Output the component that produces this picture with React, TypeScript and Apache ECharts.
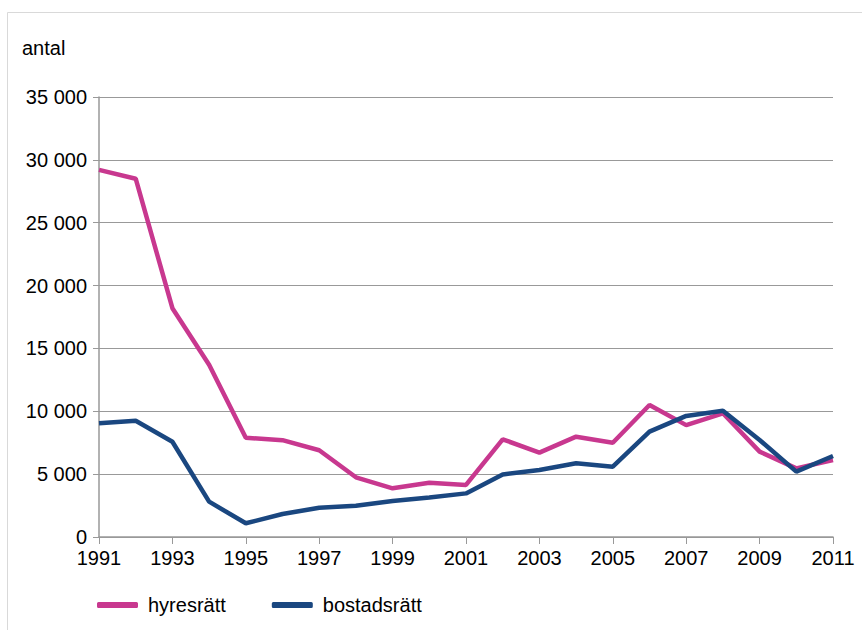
import React, { useEffect, useRef } from "react";
import * as echarts from "echarts";

const years = ["1991","1992","1993","1994","1995","1996","1997","1998","1999","2000","2001","2002","2003","2004","2005","2006","2007","2008","2009","2010","2011"];
const hyresratt = [29200,28500,18200,13700,7900,7700,6900,4750,3870,4320,4140,7770,6710,7980,7500,10500,8900,9840,6790,5460,6120];
const bostadsratt = [9040,9250,7580,2810,1090,1830,2330,2490,2860,3150,3470,4980,5330,5860,5590,8380,9630,10050,7720,5200,6440];

const PINK = "#C8388F";
const BLUE = "#1A4780";
const FONT = "Liberation Sans, Arial, sans-serif";

export default function App() {
  const ref = useRef<HTMLDivElement>(null);
  useEffect(() => {
    if (!ref.current) return;
    const chart = echarts.init(ref.current, undefined, { renderer: "svg" });
    chart.setOption({
      animation: false,
      backgroundColor: "#ffffff",
      textStyle: { fontFamily: FONT },
      graphic: [
        {
          type: "rect",
          shape: { x: 7.5, y: 12.5, width: 900, height: 700 },
          style: { fill: "none", stroke: "#d9d9d9", lineWidth: 1 },
          silent: true,
        },
        {
          type: "text",
          left: 22,
          top: 38,
          style: { text: "antal", fontSize: 20, fill: "#000", fontFamily: FONT },
        },
      ],
      legend: {
        left: 97,
        top: 595,
        padding: 0,
        itemWidth: 41,
        itemHeight: 6,
        itemGap: 46,
        icon: "roundRect",
        textStyle: { fontSize: 20, color: "#000", fontFamily: FONT, padding: [0, 0, 0, 5] },
        data: ["hyresrätt", "bostadsrätt"],
      },
      grid: { left: 99, right: 29, top: 97, bottom: 93, containLabel: false },
      xAxis: {
        type: "category",
        data: years,
        boundaryGap: false,
        axisLine: { lineStyle: { color: "#999", width: 1.5 } },
        axisTick: { interval: 1, length: 7, lineStyle: { color: "#999" } },
        axisLabel: { interval: 1, fontSize: 20, color: "#000", margin: 11, fontFamily: FONT },
        splitLine: { show: false },
      },
      yAxis: {
        type: "value",
        min: 0,
        max: 35000,
        interval: 5000,
        axisLine: { show: true, lineStyle: { color: "#999", width: 1.5 } },
        axisTick: { show: true, length: 6, lineStyle: { color: "#999" } },
        axisLabel: {
          fontSize: 20,
          color: "#000",
          margin: 12,
          fontFamily: FONT,
          formatter: (v: number) => {
            const s = String(v);
            return s.length > 3 ? s.slice(0, s.length - 3) + " " + s.slice(s.length - 3) : s;
          },
        },
        splitLine: { lineStyle: { color: "#999", width: 1.2 } },
      },
      series: [
        {
          name: "hyresrätt",
          type: "line",
          data: hyresratt,
          showSymbol: false,
          symbol: "none",
          color: PINK,
          lineStyle: { color: PINK, width: 4.5 },
        },
        {
          name: "bostadsrätt",
          type: "line",
          data: bostadsratt,
          showSymbol: false,
          symbol: "none",
          color: BLUE,
          lineStyle: { color: BLUE, width: 4.5 },
        },
      ],
    });
    return () => chart.dispose();
  }, []);
  return (
    <div
      ref={ref}
      style={{ position: "fixed", left: 0, top: 0, width: 862, height: 630 }}
    />
  );
}
